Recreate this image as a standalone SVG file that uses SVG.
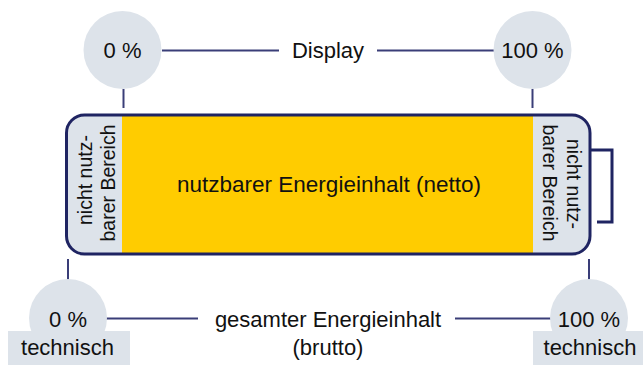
<svg xmlns="http://www.w3.org/2000/svg" width="643" height="365" viewBox="0 0 643 365">
<style>
text{font-family:"Liberation Sans",Arial,sans-serif;font-size:22px;fill:#111;text-anchor:middle}
.v{font-size:19.5px}
.m{font-size:22.5px}
.c{fill:#dde3ea}
.ln{stroke:#3a3e78;stroke-width:2;fill:none}
.nv{stroke:#1f2462;stroke-width:3;fill:none}
</style>
<defs>
<clipPath id="bc"><rect x="66.5" y="115" width="523.5" height="139" rx="18"/></clipPath>
</defs>
<g id="connectors">
<line class="ln" x1="162" y1="50.5" x2="279" y2="50.5"/>
<line class="ln" x1="377" y1="50.5" x2="494" y2="50.5"/>
<line class="ln" x1="123.5" y1="89" x2="123.5" y2="108"/>
<line class="ln" x1="532.5" y1="89" x2="532.5" y2="108"/>
<line class="ln" x1="68" y1="259" x2="68" y2="280"/>
<line class="ln" x1="589" y1="259" x2="589" y2="280"/>
<line class="ln" x1="106" y1="318.5" x2="198" y2="318.5"/>
<line class="ln" x1="455" y1="318.5" x2="551" y2="318.5"/>
</g>
<g id="display-0">
<circle class="c" cx="122.5" cy="50" r="39"/>
<text x="122.5" y="58">0 %</text>
</g>
<g id="display-label"><text x="328" y="58">Display</text></g>
<g id="display-100">
<circle class="c" cx="532.5" cy="50" r="39"/>
<text x="532.5" y="58">100 %</text>
</g>
<g id="battery">
<g clip-path="url(#bc)">
<rect x="60" y="110" width="62" height="150" fill="#dde3ea"/>
<rect x="122" y="110" width="411" height="150" fill="#ffcc00"/>
<rect x="533" y="110" width="62" height="150" fill="#dde3ea"/>
</g>
<rect class="nv" x="66.5" y="115" width="523.5" height="139" rx="18"/>
<path class="nv" d="M590,150 H612 V222 H597"/>
<text class="m" x="329" y="192">nutzbarer Energieinhalt (netto)</text>
<text class="v" transform="translate(91.5,180) rotate(-90)">nicht nutz-</text>
<text class="v" transform="translate(114.5,183) rotate(-90)">barer Bereich</text>
<text class="v" transform="translate(566.5,184) rotate(90)">nicht nutz-</text>
<text class="v" transform="translate(542.5,183) rotate(90)">barer Bereich</text>
</g>
<g id="tech-0">
<circle class="c" cx="68" cy="318" r="39"/>
<rect class="c" x="8" y="331" width="122" height="34"/>
<text x="68" y="327">0 %</text>
<text x="67.5" y="355">technisch</text>
</g>
<g id="total-label">
<text x="328" y="327">gesamter Energieinhalt</text>
<text x="328" y="355">(brutto)</text>
</g>
<g id="tech-100">
<circle class="c" cx="589" cy="318" r="39"/>
<rect class="c" x="533" y="331" width="110" height="34"/>
<text x="589" y="327">100 %</text>
<text x="590" y="355">technisch</text>
</g>
</svg>
